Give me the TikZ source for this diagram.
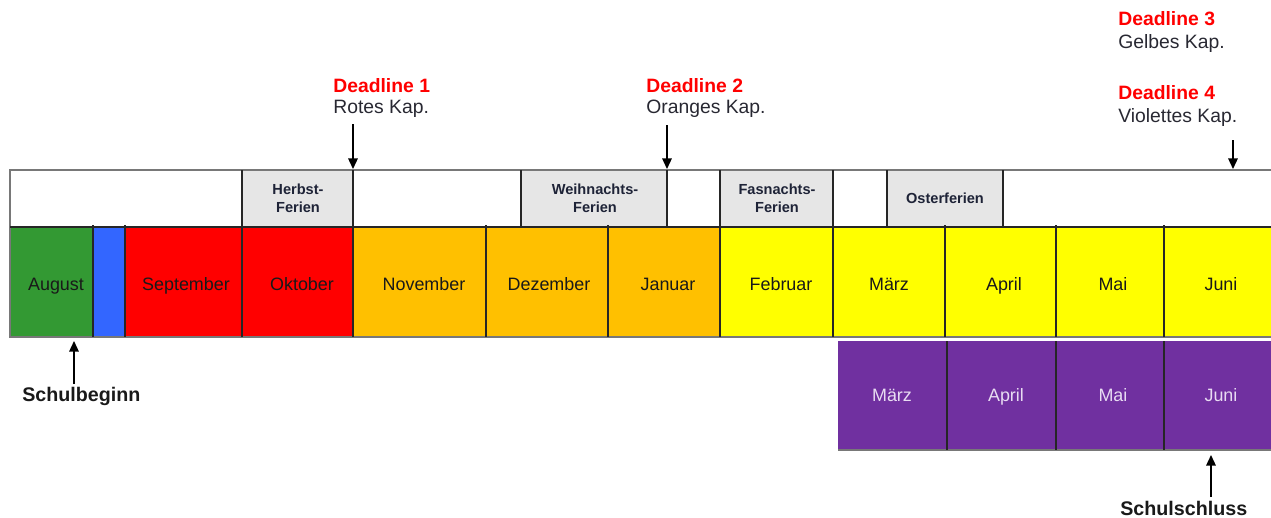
\documentclass[tikz,border=0pt]{standalone}
\usepackage{fontspec}
\setmainfont{Liberation Sans}
\usetikzlibrary{arrows.meta}

\definecolor{augGreen}{RGB}{51,153,51}
\definecolor{sepBlue}{RGB}{51,102,255}
\definecolor{kapRed}{RGB}{255,0,0}
\definecolor{kapOrange}{RGB}{255,192,0}
\definecolor{kapYellow}{RGB}{255,255,0}
\definecolor{kapViolet}{RGB}{112,48,160}
\definecolor{violetText}{RGB}{232,220,242}
\definecolor{ferienGray}{RGB}{230,230,230}
\definecolor{ferienText}{RGB}{30,35,55}
\definecolor{frameGray}{RGB}{120,120,120}
\definecolor{kapText}{RGB}{40,40,50}

\tikzset{
  month/.style={font=\fontsize{10.2}{12}\selectfont, text=black!90, anchor=base},
  vmonth/.style={font=\fontsize{10.2}{12}\selectfont, text=violetText, anchor=base},
  ferien/.style={font=\fontsize{8.3}{10.2}\selectfont\bfseries, text=ferienText, align=center},
  deadline/.style={font=\fontsize{11}{13}\selectfont\bfseries, text=kapRed, anchor=west, inner sep=0pt},
  kapitel/.style={font=\fontsize{11}{13}\selectfont, text=kapText, anchor=west, inner sep=0pt},
  schule/.style={font=\fontsize{11.2}{13}\selectfont\bfseries, text=black!90, anchor=west, inner sep=0pt},
  pfeil/.style={line width=0.85pt, -{Triangle[length=6pt,width=5.4pt]}},
  grid/.style={line width=0.6pt, black!85},
  rand/.style={line width=0.6pt, frameGray}
}

\begin{document}
\begin{tikzpicture}[x=0.2mm,y=-0.2mm]
  \useasboundingbox (0,0) rectangle (1271,517);
  % Monate
  \fill[augGreen] (10,227) rectangle (93,337);
  \fill[sepBlue] (93,227) rectangle (125,337);
  \fill[kapRed] (125,227) rectangle (353,337);
  \fill[kapOrange] (353,227) rectangle (720,337);
  \fill[kapYellow] (720,227) rectangle (1271,337);
  % Ferien
  \fill[ferienGray] (242,170) rectangle (353,227);
  \fill[ferienGray] (521,170) rectangle (667,227);
  \fill[ferienGray] (720,170) rectangle (833,227);
  \fill[ferienGray] (887,170) rectangle (1003,227);
  % violette Monate
  \fill[kapViolet] (838,341) rectangle (1271,450);
  % Linien
  \draw[rand] (1271,170) -- (10,170) -- (10,337) -- (1271,337);
  \draw[grid] (10,227) -- (1271,227);
  \draw[grid] (93,225) -- (93,337);
  \draw[grid] (125,225) -- (125,337);
  \draw[grid] (242,170) -- (242,337);
  \draw[grid] (353,170) -- (353,337);
  \draw[grid] (486,225) -- (486,337);
  \draw[grid] (521,170) -- (521,227);
  \draw[grid] (608,225) -- (608,337);
  \draw[grid] (667,170) -- (667,227);
  \draw[grid] (720,170) -- (720,337);
  \draw[grid] (833,170) -- (833,337);
  \draw[grid] (887,170) -- (887,227);
  \draw[grid] (945,225) -- (945,337);
  \draw[grid] (1003,170) -- (1003,227);
  \draw[grid] (1056,225) -- (1056,337);
  \draw[grid] (1164,225) -- (1164,337);
  \draw[rand] (838,450) -- (1271,450);
  \draw[grid] (947,341) -- (947,450);
  \draw[grid] (1056,341) -- (1056,450);
  \draw[grid] (1164,341) -- (1164,450);

  \path (56,290) node[month] (m1) {August};
  \path (186,290) node[month] (m2) {September};
  \path (302,290) node[month] (m3) {Oktober};
  \path (424,290) node[month] (m4) {November};
  \path (549,290) node[month] (m5) {Dezember};
  \path (668,290) node[month] (m6) {Januar};
  \path (781,290) node[month] (m7) {Februar};
  \path (889,290) node[month] (m8) {März};
  \path (1004,290) node[month] (m9) {April};
  \path (1113,290) node[month] (m10) {Mai};
  \path (1221,290) node[month] (m11) {Juni};

  \path (892,401) node[vmonth] (v1) {März};
  \path (1006,401) node[vmonth] (v2) {April};
  \path (1113,401) node[vmonth] (v3) {Mai};
  \path (1221,401) node[vmonth] (v4) {Juni};

  \path (298,198) node[ferien] (f1) {Herbst-\\Ferien};
  \path (595,198) node[ferien] (f2) {Weihnachts-\\Ferien};
  \path (777,198) node[ferien] (f3) {Fasnachts-\\Ferien};
  \path (945,198) node[ferien] (f4) {Osterferien};

  % Deadlines
  \path (333,86) node[deadline] (d1) {Deadline 1};
  \path (333,109) node[kapitel] (k1) {Rotes Kap.};
  \path (646,86) node[deadline] (d2) {Deadline 2};
  \path (646,109) node[kapitel] (k2) {Oranges Kap.};
  \path (1118,19) node[deadline] (d3) {Deadline 3};
  \path (1118,43) node[kapitel] (k3) {Gelbes Kap.};
  \path (1118,93) node[deadline] (d4) {Deadline 4};
  \path (1118,117) node[kapitel] (k4) {Violettes Kap.};
  \path (22,396) node[schule] (s1) {Schulbeginn};
  \path (1120,508) node[schule] (s2) {Schulschluss};

  \coordinate (a1) at (353,124);
  \coordinate (b1) at (353,169);
  \coordinate (a2) at (667,125);
  \coordinate (b2) at (667,169);
  \coordinate (a4) at (1233,140);
  \coordinate (b4) at (1233,169);
  \coordinate (a5) at (74,384);
  \coordinate (b5) at (74,341);
  \coordinate (a6) at (1211,497);
  \coordinate (b6) at (1211,455);
  \draw[pfeil] (a1) -- (b1);
  \draw[pfeil] (a2) -- (b2);
  \draw[pfeil] (a4) -- (b4);
  \draw[pfeil] (a5) -- (b5);
  \draw[pfeil] (a6) -- (b6);
\end{tikzpicture}
\end{document}
